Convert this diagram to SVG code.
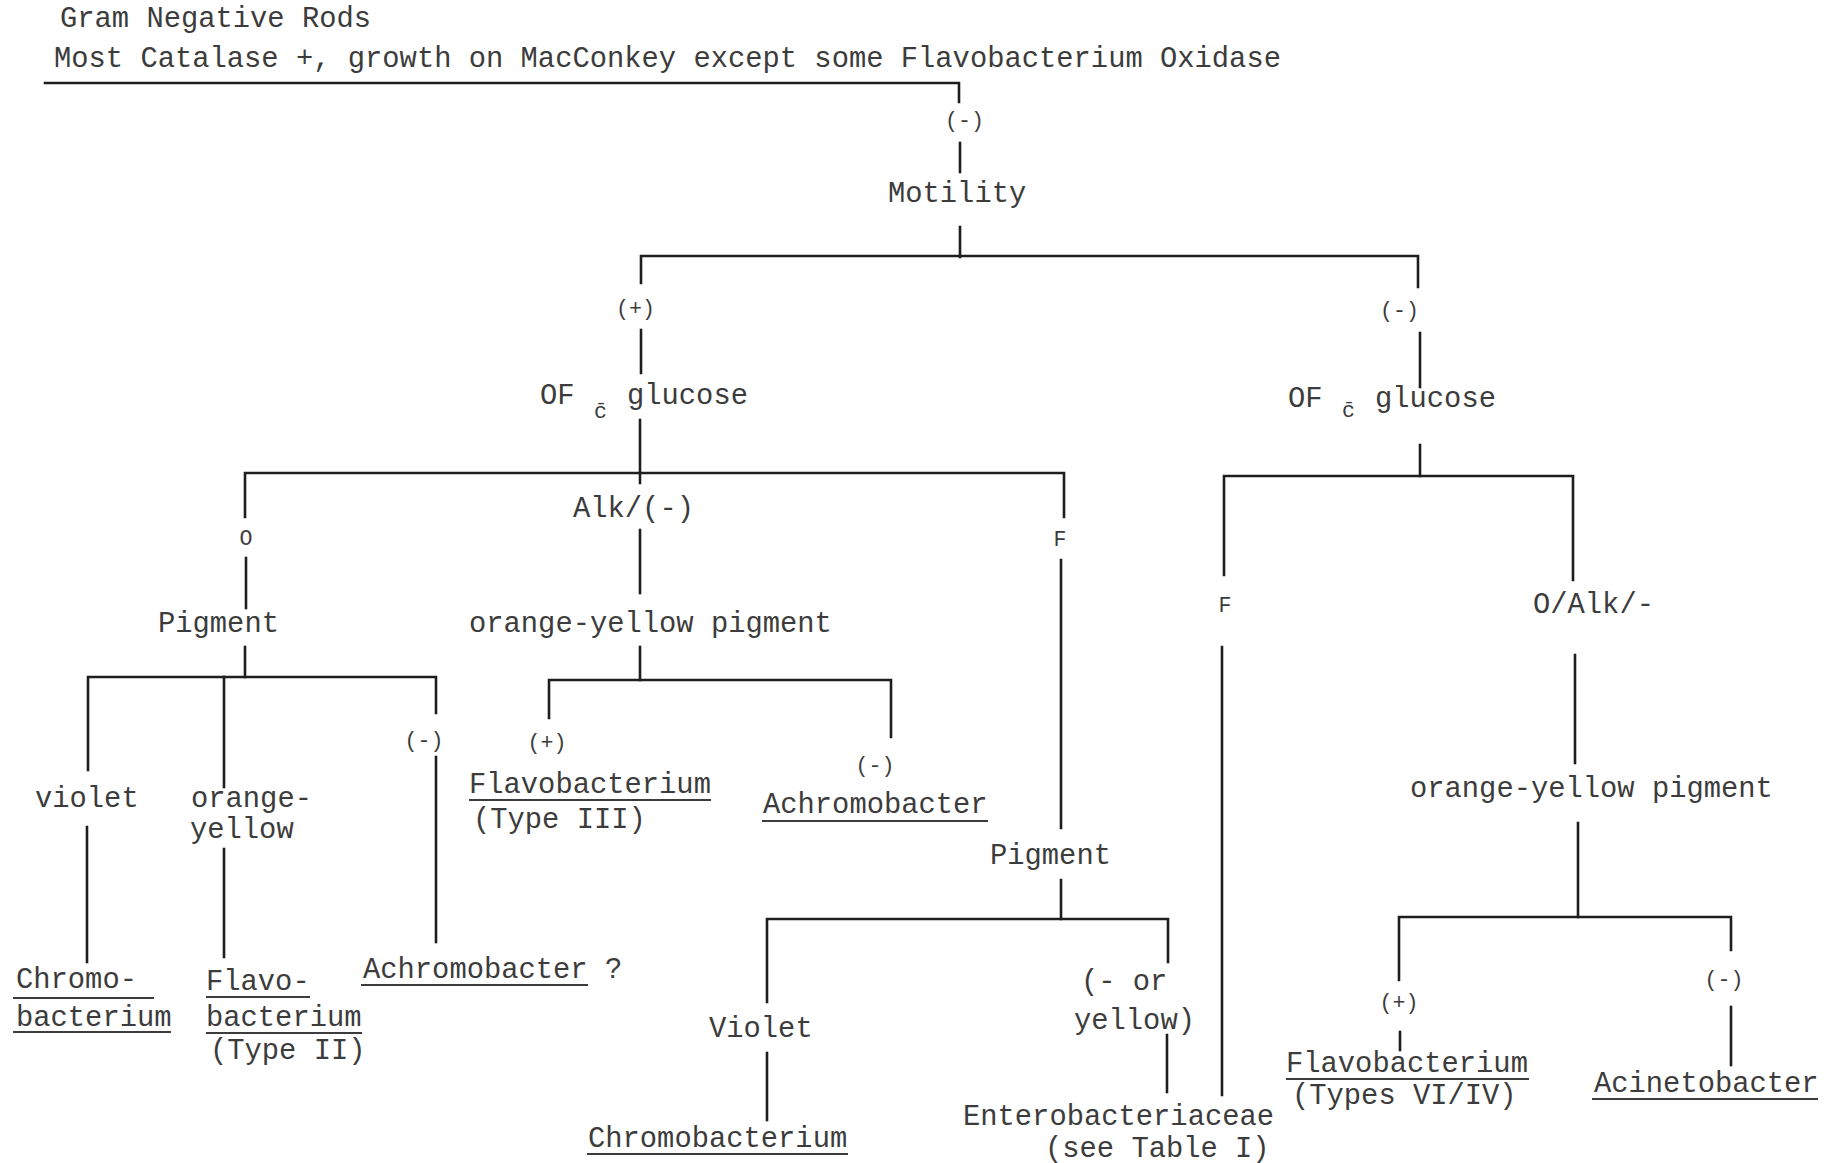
<svg xmlns="http://www.w3.org/2000/svg" width="1841" height="1163" viewBox="0 0 1841 1163">
<style>
text{font-family:"Liberation Mono","Courier New",monospace;fill:#3c3c3c;font-size:28.8px}
.s{font-size:21.6px}
.c line,.c path{stroke:#1e1e1e;stroke-width:2.6;fill:none;stroke-linecap:square}
.u{stroke:#3c3c3c;stroke-width:2.2}
</style>
<rect width="1841" height="1163" fill="#fff"/>
<g id="connectors" class="c">
<path d="M45,83 H959 V102"/>
<line x1="960" y1="143" x2="960" y2="172"/>
<line x1="960" y1="227" x2="960" y2="257"/>
<path d="M641,283 V256 H1418 V287"/>
<line x1="641" y1="330" x2="641" y2="373"/>
<line x1="1420" y1="333" x2="1420" y2="387"/>
<line x1="640" y1="420" x2="640" y2="483"/>
<path d="M245,517 V473 H1064 V517"/>
<line x1="246" y1="558" x2="246" y2="608"/>
<line x1="245" y1="647" x2="245" y2="677"/>
<path d="M88,770 V677 H436 V713"/>
<line x1="224" y1="677" x2="224" y2="787"/>
<line x1="87" y1="827" x2="87" y2="962"/>
<line x1="224" y1="849" x2="224" y2="957"/>
<line x1="436" y1="757" x2="436" y2="942"/>
<line x1="640" y1="530" x2="640" y2="593"/>
<line x1="640" y1="647" x2="640" y2="680"/>
<path d="M549,718 V680 H891 V737"/>
<line x1="1061" y1="560" x2="1061" y2="828"/>
<line x1="1061" y1="880" x2="1061" y2="919"/>
<path d="M767,1002 V919 H1168 V962"/>
<line x1="767" y1="1053" x2="767" y2="1120"/>
<line x1="1167" y1="1035" x2="1167" y2="1092"/>
<line x1="1420" y1="445" x2="1420" y2="476"/>
<path d="M1224,575 V476 H1573 V580"/>
<line x1="1222" y1="647" x2="1222" y2="1095"/>
<line x1="1575" y1="655" x2="1575" y2="763"/>
<line x1="1578" y1="823" x2="1578" y2="917"/>
<path d="M1399,980 V917 H1731 V950"/>
<line x1="1400" y1="1032" x2="1400" y2="1050"/>
<line x1="1731" y1="1007" x2="1731" y2="1065"/>
</g>
<g id="n-title"><text x="60" y="27">Gram Negative Rods</text><text x="54" y="67">Most Catalase +, growth on MacConkey except some Flavobacterium Oxidase</text></g>
<g id="n-neg-top"><text class="s" x="945" y="127">(-)</text></g>
<g id="n-motility"><text x="888" y="202">Motility</text></g>
<g id="n-motile-pos"><text class="s" x="616" y="315">(+)</text></g>
<g id="n-motile-neg"><text class="s" x="1380" y="317">(-)</text></g>
<g id="n-of-left"><text x="540" y="404">OF<tspan class="s" x="594" dy="14">c̄</tspan><tspan x="627" dy="-14">glucose</tspan></text></g>
<g id="n-of-right"><text x="1288" y="407">OF<tspan class="s" x="1342" dy="10">c̄</tspan><tspan x="1375" dy="-10">glucose</tspan></text></g>
<g id="n-o"><text class="s" x="239.5" y="545">O</text></g>
<g id="n-alk"><text x="573" y="517">Alk/(-)</text></g>
<g id="n-f1"><text class="s" x="1053.5" y="546">F</text></g>
<g id="n-pigment1"><text x="158" y="632">Pigment</text></g>
<g id="n-oyp1"><text x="469" y="632">orange-yellow pigment</text></g>
<g id="n-violet1"><text x="35" y="807">violet</text></g>
<g id="n-orange-yellow"><text x="191" y="807">orange-<tspan x="190" dy="31">yellow</tspan></text></g>
<g id="n-neg-pig1"><text class="s" x="404.5" y="747">(-)</text></g>
<g id="n-chromo1"><text x="16" y="988">Chromo-<tspan x="16" dy="38">bacterium</tspan></text><line class="u" x1="13" y1="998" x2="154" y2="998"/><line class="u" x1="13" y1="1032" x2="171" y2="1032"/></g>
<g id="n-flavo2"><text x="206" y="990">Flavo-<tspan x="206" dy="36">bacterium</tspan><tspan x="210" dy="33">(Type II)</tspan></text><line class="u" x1="206" y1="997" x2="310" y2="997"/><line class="u" x1="206" y1="1033" x2="362" y2="1033"/></g>
<g id="n-achromo1"><text x="363" y="978">Achromobacter ?</text><line class="u" x1="361" y1="985" x2="588" y2="985"/></g>
<g id="n-pos-oyp1"><text class="s" x="527.5" y="749">(+)</text></g>
<g id="n-flavo3"><text x="469" y="793">Flavobacterium<tspan x="473" dy="35">(Type III)</tspan></text><line class="u" x1="469" y1="800" x2="711" y2="800"/></g>
<g id="n-neg-oyp1"><text class="s" x="855.5" y="772">(-)</text></g>
<g id="n-achromo2"><text x="763" y="813">Achromobacter</text><line class="u" x1="762" y1="821" x2="988" y2="821"/></g>
<g id="n-pigment2"><text x="990" y="864">Pigment</text></g>
<g id="n-violet2"><text x="709" y="1037">Violet</text></g>
<g id="n-chromo2"><text x="588" y="1147">Chromobacterium</text><line class="u" x1="587" y1="1154" x2="848" y2="1154"/></g>
<g id="n-neg-or-yellow"><text x="1081" y="990">(- or<tspan x="1074" dy="39">yellow)</tspan></text></g>
<g id="n-entero"><text x="963" y="1125">Enterobacteriaceae<tspan x="1045" dy="32">(see Table I)</tspan></text></g>
<g id="n-f2"><text class="s" x="1218.5" y="612">F</text></g>
<g id="n-oalk"><text x="1533" y="613">O/Alk/-</text></g>
<g id="n-oyp2"><text x="1410" y="797">orange-yellow pigment</text></g>
<g id="n-pos-oyp2"><text class="s" x="1379.5" y="1009">(+)</text></g>
<g id="n-neg-oyp2"><text class="s" x="1704.5" y="986">(-)</text></g>
<g id="n-flavo46"><text x="1286" y="1072">Flavobacterium<tspan x="1292" dy="32">(Types VI/IV)</tspan></text><line class="u" x1="1286" y1="1079" x2="1529" y2="1079"/></g>
<g id="n-acineto"><text x="1594" y="1092">Acinetobacter</text><line class="u" x1="1592" y1="1099" x2="1818" y2="1099"/></g>
</svg>
